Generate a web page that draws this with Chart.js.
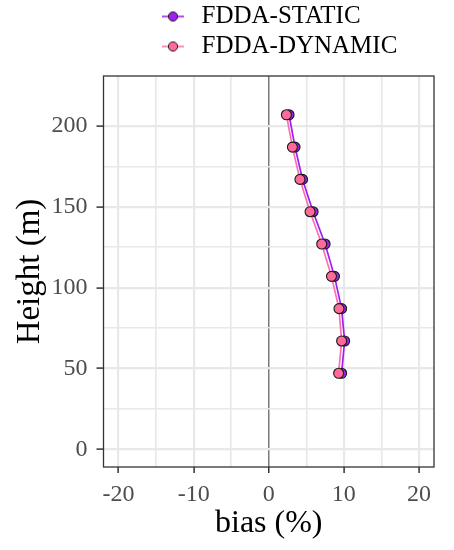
<!DOCTYPE html>
<html>
<head>
<meta charset="utf-8">
<script src="https://cdn.jsdelivr.net/npm/chart.js@4.4.1/dist/chart.umd.min.js"></script>
<style>
  body { margin: 0; background: #fff; }
  #wrap { width: 454px; height: 550px; }
</style>
</head>
<body>
<div id="wrap"><canvas id="biasChart" width="454" height="550"></canvas></div>
<script>
const heights = [47, 67, 87, 107, 127, 147, 167, 187, 207];
const biasStatic = [9.7, 10.1, 9.7, 8.75, 7.5, 5.9, 4.5, 3.5, 2.7];
const biasDynamic = [9.3, 9.7, 9.35, 8.35, 7.05, 5.5, 4.15, 3.15, 2.35];
const seriesNames = ["FDDA-STATIC", "FDDA-DYNAMIC"];
const xTicks = [-20, -15, -10, -5, 0, 5, 10, 15, 20];
const yTicks = [0, 25, 50, 75, 100, 125, 150, 175, 200];

const lineColors = ["#a020f0", "#ff6eb4"];
const pointColors = ["#a020f0", "#ff6a9a"];
const serif = "'Liberation Serif', 'DejaVu Serif', serif";

// legend key: short line with a dot on it, like ggplot's line+point key
function legendGlyph(lineColor, fill) {
    const c = document.createElement("canvas");
    c.width = 24;
    c.height = 12;
    const g = c.getContext("2d");
    g.strokeStyle = lineColor;
    g.lineWidth = 1.6;
    g.beginPath();
    g.moveTo(1, 6);
    g.lineTo(23, 6);
    g.stroke();
    g.beginPath();
    g.arc(12, 6, 4.6, 0, Math.PI * 2);
    g.fillStyle = fill;
    g.fill();
    g.strokeStyle = "#1a1a1a";
    g.lineWidth = 1;
    g.stroke();
    return c;
}
const glyphs = seriesNames.map((n, i) => legendGlyph(lineColors[i], pointColors[i]));

const seriesValues = [biasStatic, biasDynamic];
const datasets = seriesNames.map((name, i) => ({
    label: name,
    data: heights.map((h, j) => ({ x: seriesValues[i][j], y: h })),
    showLine: true,
    tension: 0,
    borderColor: lineColors[i],
    borderWidth: 1.7,
    pointRadius: 5,
    pointBackgroundColor: pointColors[i],
    pointBorderColor: "#1a1a1a",
    pointBorderWidth: 1.1,
    order: i === 0 ? 2 : 1
}));

// move the two-row legend over to where ggplot put it
const legendNudge = {
    id: "legendNudge",
    afterLayout(chart) {
        chart.legend.left = 152;
        chart.legend.top = -1;
    }
};

const panelBorder = {
    id: "panelBorder",
    afterDatasetsDraw(chart) {
        const { ctx, chartArea: a } = chart;
        ctx.save();
        ctx.strokeStyle = "#333333";
        ctx.lineWidth = 1.3;
        ctx.strokeRect(a.left, a.top, a.right - a.left, a.bottom - a.top);
        ctx.restore();
    }
};

const ctx = document.getElementById("biasChart").getContext("2d");
const chart = new Chart(ctx, {
    type: "scatter",
    data: { datasets: datasets },
    plugins: [legendNudge, panelBorder],
    options: {
        responsive: false,
        animation: false,
        layout: { padding: { top: 6, right: 20, bottom: 0, left: 0 } },
        plugins: {
            tooltip: { enabled: false },
            legend: {
                position: "top",
                align: "start",
                fullSize: false,
                labels: {
                    usePointStyle: true,
                    pointStyleWidth: 32,
                    padding: 5,
                    color: "#000",
                    font: { family: serif, size: 25 },
                    generateLabels: () => seriesNames.map((name, i) => ({
                        text: name,
                        pointStyle: glyphs[i],
                        datasetIndex: i,
                        hidden: false,
                        lineWidth: 0,
                        fillStyle: "transparent",
                        strokeStyle: "transparent",
                        fontColor: "#000"
                    }))
                }
            }
        },
        scales: {
            x: {
                type: "linear",
                min: -22,
                max: 22,
                afterBuildTicks: axis => { axis.ticks = xTicks.map(v => ({ value: v })); },
                afterFit: axis => { axis.height = 83; },
                ticks: {
                    autoSkip: false,
                    maxRotation: 0,
                    padding: 7,
                    color: "#4d4d4d",
                    font: { family: serif, size: 24 },
                    callback: v => (v % 10 === 0 ? String(v) : "")
                },
                grid: {
                    color: c => (c.tick && c.tick.value === 0 ? "#7a7a7a" : "#e8e8e8"),
                    lineWidth: c => (c.tick && c.tick.value === 0 ? 1.5 : (c.tick && c.tick.value % 10 === 0 ? 2.2 : 1.6)),
                    tickColor: c => (c.tick && c.tick.value % 10 === 0 ? "#333333" : "rgba(0,0,0,0)"),
                    tickLength: 6,
                    tickWidth: 1.5
                },
                border: { display: false },
                title: {
                    display: true,
                    text: "bias (%)",
                    color: "#000",
                    font: { family: serif, size: 32 },
                    padding: { top: 0, bottom: 7 }
                }
            },
            y: {
                type: "linear",
                min: -11,
                max: 231,
                afterBuildTicks: axis => { axis.ticks = yTicks.map(v => ({ value: v })); },
                afterFit: axis => { axis.width = 103.5; },
                ticks: {
                    autoSkip: false,
                    padding: 9,
                    color: "#4d4d4d",
                    font: { family: serif, size: 24 },
                    callback: v => (v % 50 === 0 ? String(v) : "")
                },
                grid: {
                    color: "#e8e8e8",
                    lineWidth: c => (c.tick && c.tick.value % 50 === 0 ? 2.2 : 1.6),
                    tickColor: c => (c.tick && c.tick.value % 50 === 0 ? "#333333" : "rgba(0,0,0,0)"),
                    tickLength: 7,
                    tickWidth: 1.5
                },
                border: { display: false },
                title: {
                    display: true,
                    text: "Height (m)",
                    color: "#000",
                    font: { family: serif, size: 33 },
                    padding: { top: 11, bottom: 0 }
                }
            }
        }
    }
});
</script>
</body>
</html>
